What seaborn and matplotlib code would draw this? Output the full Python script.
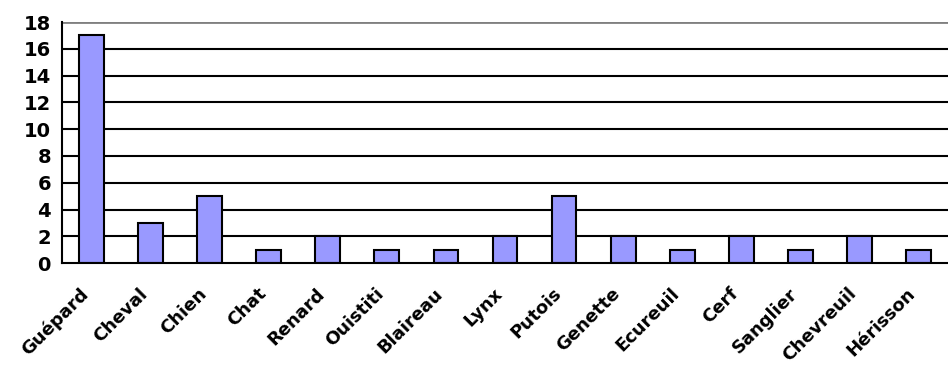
import matplotlib
matplotlib.use("Agg")
import matplotlib.pyplot as plt
import matplotlib.transforms as mtransforms
import seaborn as sns
import numpy as np
import pandas as pd

# Données
animaux = ["Guépard", "Cheval", "Chien", "Chat", "Renard", "Ouistiti", "Blaireau",
           "Lynx", "Putois", "Genette", "Ecureuil", "Cerf", "Sanglier", "Chevreuil", "Hérisson"]
nombre = [17, 3, 5, 1, 2, 1, 1, 2, 5, 2, 1, 2, 1, 2, 1]
graduations_y = [0, 2, 4, 6, 8, 10, 12, 14, 16, 18]

df = pd.DataFrame({"animal": animaux, "nombre": nombre})

sns.set_style("white")
plt.rcParams["font.family"] = ["DejaVu Sans"]
plt.rcParams["text.color"] = "black"
plt.rcParams["xtick.color"] = "black"
plt.rcParams["ytick.color"] = "black"

fig = plt.figure(figsize=(9.48, 3.70), dpi=100)
ax = fig.add_axes([0.0654, 0.289, 0.9346, 0.6515])

# Grille horizontale
for v in graduations_y[1:-1]:
    ax.axhline(v, color="black", linewidth=1.5, zorder=0)
ax.axhline(18, color="#808080", linewidth=2, zorder=0)

sns.barplot(data=df, x="animal", y="nombre", color="#9999FF", saturation=1,
            edgecolor="black", linewidth=1.5, width=0.42, ax=ax, zorder=2)

ax.set_xlim(-0.5, len(animaux) - 0.5)
ax.set_ylim(0, 18)
ax.set_yticks(graduations_y)
ax.set_yticklabels([str(v) for v in graduations_y], fontsize=14, fontweight="bold")

ax.set_xticks(np.arange(len(animaux)))
ax.set_xticklabels(animaux, rotation=45, ha="right", rotation_mode="anchor",
                   fontsize=13, fontweight="bold")
ax.set_xticks(np.arange(len(animaux)) - 0.5, minor=True)
ax.tick_params(axis="x", which="major", length=0, pad=4)
ax.tick_params(axis="x", which="minor", length=5, width=1.5, direction="out")
ax.tick_params(axis="y", length=5, width=1.5, direction="out", pad=3)

# décalage des étiquettes vers le bas à gauche
decalage = mtransforms.ScaledTranslation(-12 / 100, -16 / 100, fig.dpi_scale_trans)
for lab in ax.get_xticklabels():
    lab.set_transform(lab.get_transform() + decalage)

for s in ["top", "right"]:
    ax.spines[s].set_visible(False)
for s in ["left", "bottom"]:
    ax.spines[s].set_color("black")
    ax.spines[s].set_linewidth(1.5)

ax.set_xlabel("")
ax.set_ylabel("")

fig.savefig("out.png", dpi=100)
plt.close(fig)
